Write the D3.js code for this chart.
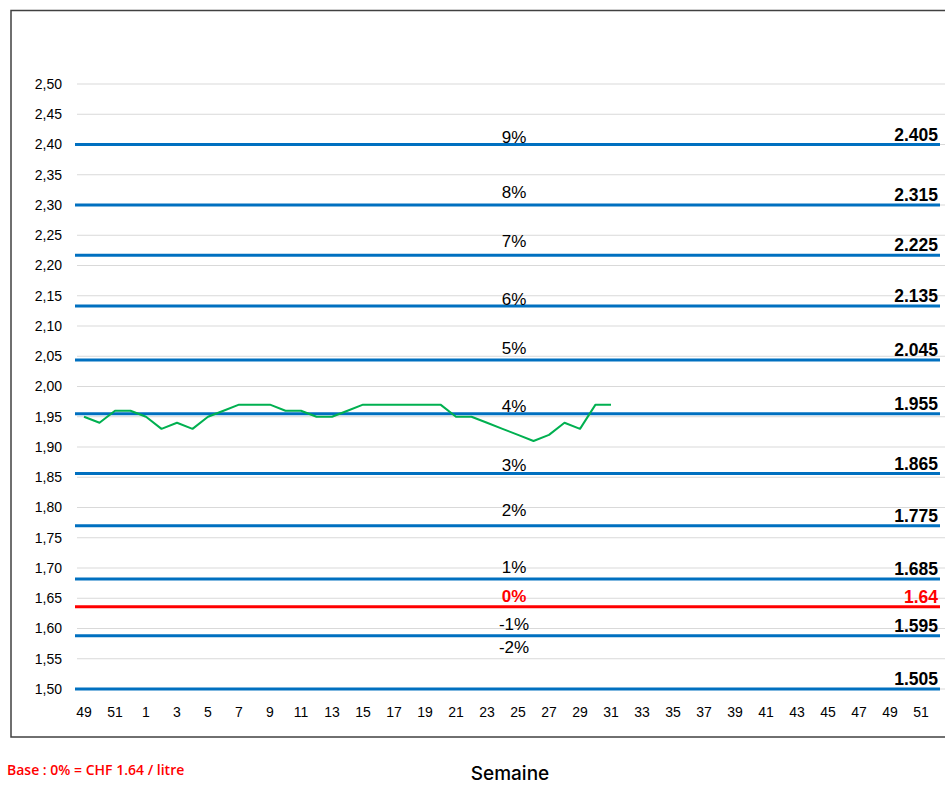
<!DOCTYPE html>
<html><head><meta charset="utf-8">
<script src="https://cdn.jsdelivr.net/npm/d3@7/dist/d3.min.js"></script>
<style>body{margin:0;background:#fff} svg{display:block}</style>
</head><body>
<svg id="c" width="945" height="786"></svg>
<script>
// ---- data ----
const weeks = ["49","50","51","52","1","2","3","4","5","6","7","8","9","10","11","12","13","14","15","16","17","18","19","20","21","22","23","24","25","26","27","28","29","30","31","32","33","34","35","36","37","38","39","40","41","42","43","44","45","46","47","48","49","50","51","52"];
const prices = [1.95,1.94,1.96,1.96,1.95,1.93,1.94,1.93,1.95,1.96,1.97,1.97,1.97,1.96,1.96,1.95,1.95,1.96,1.97,1.97,1.97,1.97,1.97,1.97,1.95,1.95,1.94,1.93,1.92,1.91,1.92,1.94,1.93,1.97,1.97];
const yTicks = [1.50,1.55,1.60,1.65,1.70,1.75,1.80,1.85,1.90,1.95,2.00,2.05,2.10,2.15,2.20,2.25,2.30,2.35,2.40,2.45,2.50];
const levelPct = ["9%","8%","7%","6%","5%","4%","3%","2%","1%","0%","-1%","-2%"];
const levelPrice = ["2.405","2.315","2.225","2.135","2.045","1.955","1.865","1.775","1.685","1.64","1.595","1.505"];
const levelLine = [2.400,2.300,2.217,2.133,2.044,1.955,1.856,1.770,1.682,1.636,1.588,1.500];
const levelPctAt = [2.412,2.321,2.240,2.145,2.064,1.968,1.870,1.796,1.702,1.654,1.608,1.569];

// ---- layout ----
const svg = d3.select("#c");
const x = d3.scalePoint().domain(d3.range(weeks.length)).range([84, 84 + 15.5 * (weeks.length - 1)]);
const y = d3.scaleLinear().domain([1.5, 2.5]).range([689, 84]);
const plotL = 77, plotR = 945;

// border
svg.append("rect").attr("x", 11).attr("y", 10.5).attr("width", 950).attr("height", 726.5)
  .attr("fill", "none").attr("stroke", "#404040").attr("stroke-width", 1.5);

// gridlines
svg.append("g").selectAll("line").data(yTicks).join("line")
  .attr("x1", plotL).attr("x2", plotR)
  .attr("y1", d => y(d)).attr("y2", d => y(d))
  .attr("stroke", "#d9d9d9").attr("stroke-width", 1);

// y axis labels
const fmt = d3.format(".2f");
svg.append("g").selectAll("text").data(yTicks).join("text")
  .attr("x", 62).attr("y", d => y(d)).attr("dy", "0.35em")
  .attr("text-anchor", "end")
  .attr("font-family", "Liberation Sans, Arial, sans-serif").attr("font-size", 14).attr("fill", "#000")
  .text(d => fmt(d).replace(".", ","));

// x axis labels
svg.append("g").selectAll("text").data(weeks.map((w, i) => [w, i]).filter(d => d[1] % 2 === 0)).join("text")
  .attr("x", d => x(d[1])).attr("y", 712).attr("dy", "0.35em")
  .attr("text-anchor", "middle")
  .attr("font-family", "Liberation Sans, Arial, sans-serif").attr("font-size", 14).attr("fill", "#000")
  .text(d => d[0]);

// level lines
const isBase = i => levelPct[i] === "0%";
svg.append("g").selectAll("line").data(levelLine).join("line")
  .attr("x1", 75).attr("x2", 940)
  .attr("y1", d => y(d)).attr("y2", d => y(d))
  .attr("stroke", (d, i) => isBase(i) ? "#ff0000" : "#0070c0").attr("stroke-width", 3);

// price line
svg.append("path").datum(prices)
  .attr("fill", "none").attr("stroke", "#00b050").attr("stroke-width", 2).attr("stroke-linejoin", "round")
  .attr("d", d3.line().x((d, i) => x(i)).y(d => y(d)));

// percent labels
svg.append("g").selectAll("text").data(levelPct).join("text")
  .attr("x", x(weeks.indexOf("25")) - 4).attr("y", (d, i) => y(levelPctAt[i])).attr("dy", "0.35em")
  .attr("text-anchor", "middle")
  .attr("font-family", "Liberation Sans, Arial, sans-serif").attr("font-size", 17)
  .attr("font-weight", (d, i) => isBase(i) ? "bold" : "normal")
  .attr("fill", (d, i) => isBase(i) ? "#ff0000" : "#000")
  .text(d => d);

// price labels at right
svg.append("g").selectAll("text").data(levelPrice).join("text")
  .attr("x", 938).attr("y", (d, i) => y(levelLine[i]) - 10).attr("dy", "0.35em")
  .attr("text-anchor", "end")
  .attr("font-family", "Liberation Sans, Arial, sans-serif").attr("font-size", 17.5).attr("font-weight", "bold")
  .attr("fill", (d, i) => isBase(i) ? "#ff0000" : "#000")
  .text(d => d);

// footer
svg.append("text").attr("x", 7).attr("y", 775)
  .attr("font-family", "Open Sans, sans-serif").attr("font-size", 14).attr("font-weight", 600)
  .attr("fill", "#ff0000").text("Base : 0% = CHF 1.64 / litre");
svg.append("text").attr("x", 510).attr("y", 773).attr("dy", "0.35em")
  .attr("text-anchor", "middle")
  .attr("font-family", "Inter, sans-serif").attr("font-size", 19).attr("font-weight", 500)
  .attr("fill", "#000").text("Semaine");
</script>
</body></html>
